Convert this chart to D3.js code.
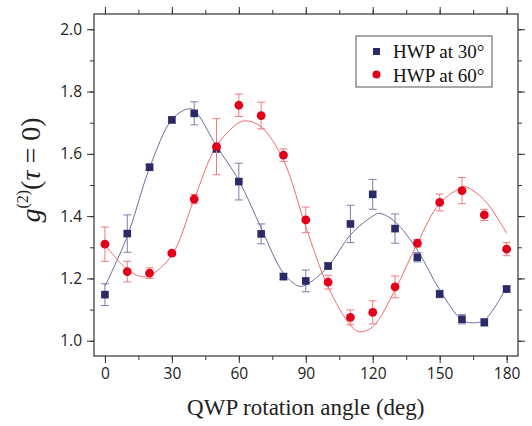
<!DOCTYPE html>
<html>
<head>
<meta charset="utf-8">
<script src="https://cdn.jsdelivr.net/npm/d3@7"></script>
<style>
  body { margin: 0; background: #fff; }
  svg { display: block; }
</style>
</head>
<body>
<div id="chart"></div>
<script>
// angles (deg)
var angles = [0, 10, 20, 30, 40, 50, 60, 70, 80, 90, 100, 110, 120, 130, 140, 150, 160, 170, 180];

// HWP at 30 deg
var hwp30 = [1.148, 1.344, 1.557, 1.709, 1.730, 1.616, 1.511, 1.343, 1.206, 1.192, 1.240, 1.375, 1.470, 1.360, 1.268, 1.150, 1.069, 1.059, 1.166];
var hwp30Err = [0.035, 0.06, 0.01, 0.01, 0.037, 0.01, 0.059, 0.032, 0.01, 0.035, 0.01, 0.06, 0.048, 0.047, 0.015, 0.012, 0.015, 0.012, 0.01];

// HWP at 60 deg
var hwp60 = [1.310, 1.222, 1.217, 1.281, 1.455, 1.623, 1.756, 1.723, 1.596, 1.388, 1.188, 1.075, 1.091, 1.173, 1.313, 1.444, 1.482, 1.404, 1.294];
var hwp60Err = [0.055, 0.033, 0.017, 0.005, 0.015, 0.09, 0.036, 0.043, 0.02, 0.041, 0.022, 0.024, 0.037, 0.035, 0.012, 0.027, 0.042, 0.018, 0.021];

// fit curves
var fit30X = [0, 10, 20, 30, 37, 40, 50, 60, 70, 80, 87, 90, 100, 110, 120, 123, 130, 140, 150, 160, 164, 170, 180];
var fit30Y = [1.175, 1.335, 1.555, 1.710, 1.744, 1.740, 1.625, 1.515, 1.362, 1.217, 1.175, 1.179, 1.238, 1.340, 1.400, 1.409, 1.382, 1.291, 1.163, 1.066, 1.058, 1.066, 1.173];
var fit60X = [0, 10, 16, 20, 30, 40, 50, 60, 63.5, 70, 80, 90, 100, 110, 114, 120, 130, 140, 150, 160, 161.5, 170, 180];
var fit60Y = [1.307, 1.229, 1.206, 1.209, 1.275, 1.455, 1.625, 1.700, 1.706, 1.687, 1.580, 1.366, 1.173, 1.050, 1.029, 1.045, 1.163, 1.313, 1.441, 1.493, 1.495, 1.452, 1.345];

var xTicks = [0, 30, 60, 90, 120, 150, 180];
var yTicks = [1.0, 1.2, 1.4, 1.6, 1.8, 2.0];

var width = 532, height = 426;
var margin = {left: 94, top: 14, right: 14, bottom: 70};
var innerW = width - margin.left - margin.right;
var innerH = height - margin.top - margin.bottom;

var svg = d3.select("#chart").append("svg")
	.attr("width", width)
	.attr("height", height);

var g = svg.append("g")
	.attr("transform", "translate(" + margin.left + "," + margin.top + ")");

var x = d3.scaleLinear().domain([-4.9, 185.1]).range([0, innerW]);
var y = d3.scaleLinear().domain([0.951, 2.049]).range([innerH, 0]);

var minorX = d3.range(0, 181, 15);
var minorY = d3.range(1.0, 2.001, 0.1);

var tickFont = "'Open Sans', 'DejaVu Sans', sans-serif";
var serif = "'Liberation Serif', 'Times New Roman', serif";

function styleAxis(sel) {
	sel.select(".domain").remove();
	sel.selectAll("line").attr("stroke", "#333").attr("stroke-width", 1);
	sel.selectAll("text").attr("font-family", tickFont).attr("font-size", 15.5).attr("fill", "#222");
}

// minor ticks
g.append("g").attr("transform", "translate(0," + innerH + ")")
	.call(d3.axisBottom(x).tickValues(minorX).tickSize(4).tickFormat("")).call(styleAxis);
g.append("g")
	.call(d3.axisTop(x).tickValues(minorX).tickSize(4).tickFormat("")).call(styleAxis);
g.append("g")
	.call(d3.axisLeft(y).tickValues(minorY).tickSize(4).tickFormat("")).call(styleAxis);
g.append("g").attr("transform", "translate(" + innerW + ",0)")
	.call(d3.axisRight(y).tickValues(minorY).tickSize(4).tickFormat("")).call(styleAxis);

// major ticks
g.append("g").attr("transform", "translate(0," + innerH + ")")
	.call(d3.axisBottom(x).tickValues(xTicks).tickSize(7).tickPadding(5).tickFormat(d3.format("d"))).call(styleAxis);
g.append("g")
	.call(d3.axisTop(x).tickValues(xTicks).tickSize(7).tickFormat("")).call(styleAxis);
g.append("g")
	.call(d3.axisLeft(y).tickValues(yTicks).tickSize(7).tickPadding(5).tickFormat(d3.format(".1f"))).call(styleAxis);
g.append("g").attr("transform", "translate(" + innerW + ",0)")
	.call(d3.axisRight(y).tickValues(yTicks).tickSize(7).tickFormat("")).call(styleAxis);

// frame
g.append("rect")
	.attr("width", innerW).attr("height", innerH)
	.attr("fill", "none").attr("stroke", "#333").attr("stroke-width", 1.2);

var line = d3.line()
	.x(d => x(d[0]))
	.y(d => y(d[1]))
	.curve(d3.curveCatmullRom.alpha(0.5));

var series = [
	{name: "HWP at 30\u00B0", vals: hwp30, err: hwp30Err, fx: fit30X, fy: fit30Y,
		mark: "#2b2a66", lineCol: "#6e6d9e", errCol: "#7f7daa", shape: "square"},
	{name: "HWP at 60\u00B0", vals: hwp60, err: hwp60Err, fx: fit60X, fy: fit60Y,
		mark: "#e3001b", lineCol: "#f06a6e", errCol: "#f07a80", shape: "circle"}
];

series.forEach(s => {
	g.append("path")
		.datum(s.fx.map((v, i) => [v, s.fy[i]]))
		.attr("d", line)
		.attr("fill", "none")
		.attr("stroke", s.lineCol)
		.attr("stroke-width", 1);
});

series.forEach(s => {
	var pts = angles.map((a, i) => ({a: a, v: s.vals[i], e: s.err[i]}));
	var eb = g.append("g").attr("stroke", s.errCol).attr("stroke-width", 1);
	eb.selectAll(".v").data(pts).enter().append("line")
		.attr("x1", d => x(d.a)).attr("x2", d => x(d.a))
		.attr("y1", d => y(d.v - d.e)).attr("y2", d => y(d.v + d.e));
	eb.selectAll(".t").data(pts).enter().append("line")
		.attr("x1", d => x(d.a) - 4).attr("x2", d => x(d.a) + 4)
		.attr("y1", d => y(d.v + d.e)).attr("y2", d => y(d.v + d.e));
	eb.selectAll(".b").data(pts).enter().append("line")
		.attr("x1", d => x(d.a) - 4).attr("x2", d => x(d.a) + 4)
		.attr("y1", d => y(d.v - d.e)).attr("y2", d => y(d.v - d.e));

	if (s.shape == "square") {
		g.append("g").selectAll("rect").data(pts).enter().append("rect")
			.attr("x", d => x(d.a) - 3.8).attr("y", d => y(d.v) - 3.8)
			.attr("width", 7.6).attr("height", 7.6)
			.attr("fill", s.mark);
	} else {
		g.append("g").selectAll("circle").data(pts).enter().append("circle")
			.attr("cx", d => x(d.a)).attr("cy", d => y(d.v))
			.attr("r", 4.4)
			.attr("fill", s.mark);
	}
});

// legend
var lg = svg.append("g").attr("transform", "translate(356,36)");
lg.append("rect").attr("width", 136).attr("height", 51)
	.attr("fill", "#fff").attr("stroke", "#555").attr("stroke-width", 1);
lg.append("rect").attr("x", 17).attr("y", 12).attr("width", 7).attr("height", 7).attr("fill", series[0].mark);
lg.append("circle").attr("cx", 20.5).attr("cy", 38.5).attr("r", 4).attr("fill", series[1].mark);
lg.selectAll("text").data(series).enter().append("text")
	.attr("x", 37).attr("y", (d, i) => 22 + i * 23.5)
	.attr("font-family", serif).attr("font-size", 19).attr("fill", "#111")
	.text(d => d.name);

// axis titles
svg.append("text")
	.attr("x", margin.left + x(90)).attr("y", 415)
	.attr("text-anchor", "middle")
	.attr("font-family", serif).attr("font-size", 23).attr("fill", "#222")
	.text("QWP rotation angle (deg)");

var yl = svg.append("text")
	.attr("transform", "translate(40,170) rotate(-90)")
	.attr("text-anchor", "middle")
	.attr("font-family", serif).attr("font-size", 28).attr("fill", "#222");
yl.append("tspan").attr("font-style", "italic").text("g");
yl.append("tspan").attr("font-size", 16).attr("dy", -12).text("(2)");
yl.append("tspan").attr("dy", 12).text("(");
yl.append("tspan").attr("font-style", "italic").text("\u03C4");
yl.append("tspan").text(" = 0)");
</script>
</body>
</html>
